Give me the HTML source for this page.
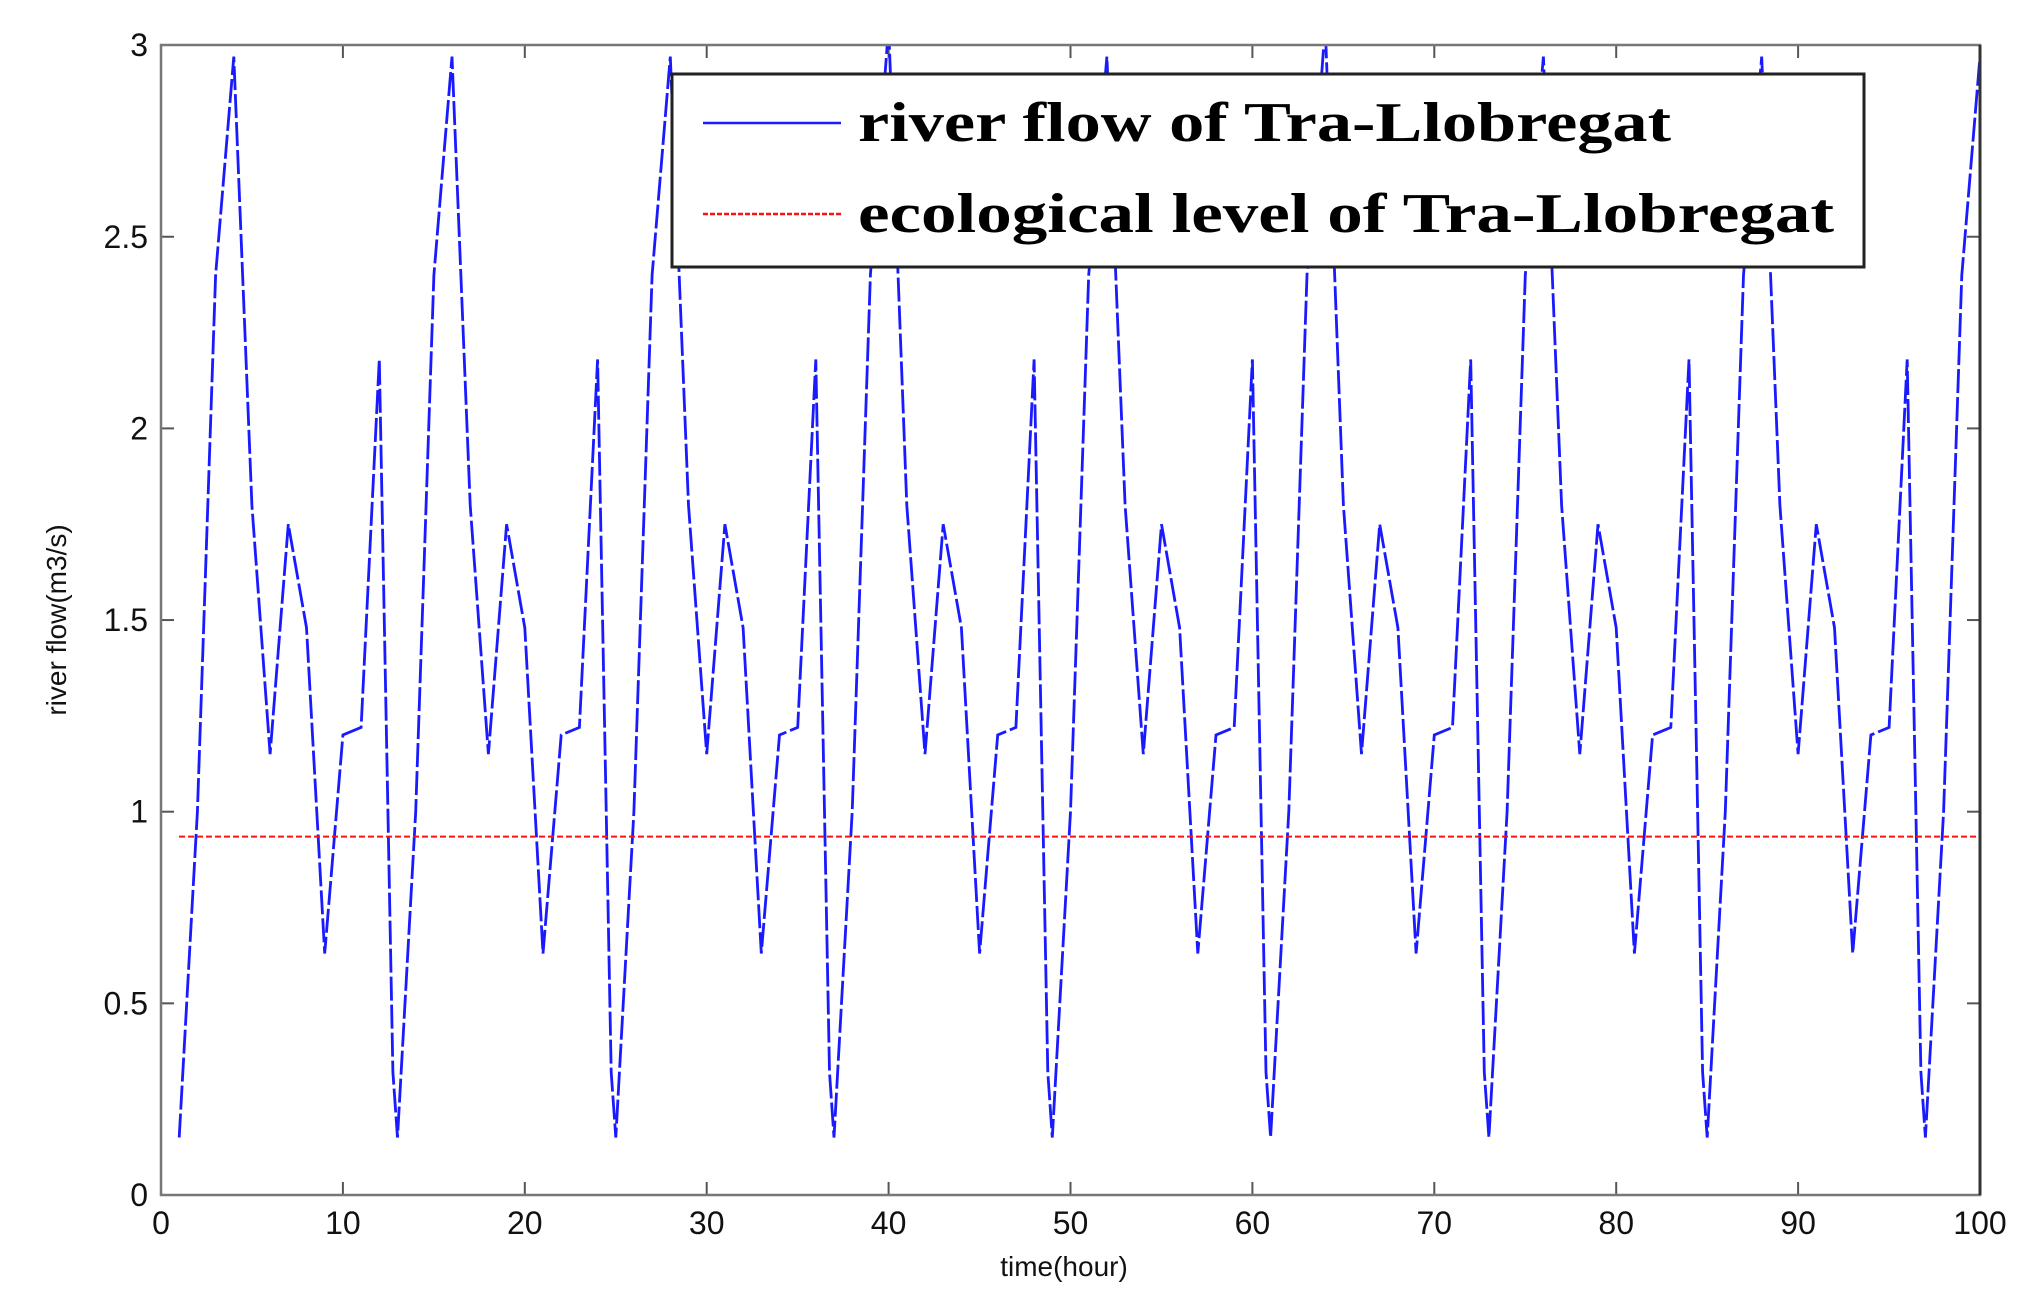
<!DOCTYPE html>
<html><head><meta charset="utf-8"><style>
html,body{margin:0;padding:0;background:#fff;}
svg{display:block;}
</style></head><body>
<svg id="s" width="2023" height="1301" xmlns="http://www.w3.org/2000/svg">
<defs><clipPath id="c"><rect x="161" y="45" width="1819" height="1150"/></clipPath></defs>
<rect x="0" y="0" width="2023" height="1301" fill="#fff"/>
<g id="ticks" stroke="#555" stroke-width="2"></g>
<polyline id="flow" clip-path="url(#c)" fill="none" stroke="#1a1aff" stroke-width="2.8" stroke-dasharray="24 4" points=""/>
<line x1="179" y1="836.6" x2="1980" y2="836.6" stroke="#ff1010" stroke-width="2" stroke-dasharray="6 3"/>
<rect x="161" y="45" width="1819" height="1150" fill="none" stroke="#777" stroke-width="2.5"/>
<line x1="1980" y1="45" x2="1980" y2="1195" stroke="#333" stroke-width="3"/>
<g font-family="Liberation Sans, sans-serif" font-size="32" fill="#111" text-anchor="end" id="yl"></g>
<g font-family="Liberation Sans, sans-serif" font-size="32" fill="#111" text-anchor="middle" id="xl"></g>
<text x="1064" y="1276" font-family="Liberation Sans, sans-serif" font-size="28" text-anchor="middle" fill="#111">time(hour)</text>
<text transform="translate(66,620) rotate(-90)" font-family="Liberation Sans, sans-serif" font-size="28" text-anchor="middle" fill="#111">river flow(m3/s)</text>
<rect x="672" y="74" width="1192" height="193" fill="#fff" stroke="#222" stroke-width="3"/>
<line x1="703" y1="123" x2="841" y2="123" stroke="#1a1aff" stroke-width="2.5"/>
<line x1="703" y1="214" x2="841" y2="214" stroke="#ff1010" stroke-width="2.5" stroke-dasharray="5 2"/>
<text x="858" y="141" font-family="Liberation Serif, serif" font-weight="bold" font-size="56" textLength="813" lengthAdjust="spacingAndGlyphs" fill="#000">river flow of Tra-Llobregat</text>
<text x="858" y="232" font-family="Liberation Serif, serif" font-weight="bold" font-size="56" textLength="976" lengthAdjust="spacingAndGlyphs" fill="#000">ecological level of Tra-Llobregat</text>
</svg>
<script>
var X=function(t){return 161+t*18.19;}, Y=function(v){return 1195-v*383.3;};
var pat=[2.18,0.15,1.0,2.4,2.97,1.8,1.15,1.75,1.48,0.63,1.2,1.22];
var pts=[];
for(var t=1;t<=100;t++){var v=pat[t%12]; if(t%12==4 && (t==40||t==64)) v=3.05;
 pts.push(X(t).toFixed(1)+","+Y(v).toFixed(1));
 if(t%12==0 && t<100){pts.push(X(t+0.75).toFixed(1)+","+Y(0.32).toFixed(1));}
}
document.getElementById('flow').setAttribute('points',pts.join(' '));
var g=document.getElementById('ticks'),h='';
for(var i=1;i<10;i++){var x=X(i*10);h+='<line x1="'+x+'" y1="1195" x2="'+x+'" y2="1182"/><line x1="'+x+'" y1="45" x2="'+x+'" y2="58"/>';}
for(var j=1;j<6;j++){var y=Y(j*0.5);h+='<line x1="161" y1="'+y+'" x2="174" y2="'+y+'"/><line x1="1980" y1="'+y+'" x2="1967" y2="'+y+'"/>';}
g.innerHTML=h;
var yl=document.getElementById('yl'),s='';
var lab=['0','0.5','1','1.5','2','2.5','3'];
for(var j=0;j<7;j++){s+='<text x="148" y="'+(Y(j*0.5)+11)+'">'+lab[j]+'</text>';}
yl.innerHTML=s;
var xl=document.getElementById('xl');s='';
for(var i=0;i<=10;i++){s+='<text x="'+X(i*10)+'" y="1234">'+(i*10)+'</text>';}
xl.innerHTML=s;
</script>
</body></html>
